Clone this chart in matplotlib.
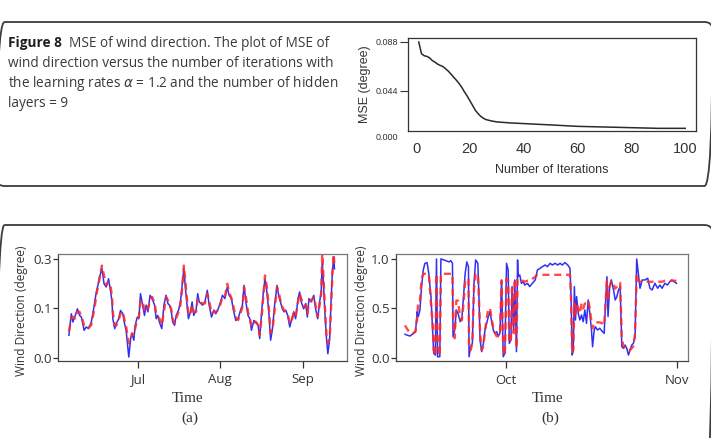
import matplotlib
matplotlib.use("Agg")
import matplotlib.pyplot as plt
from matplotlib.patches import FancyBboxPatch

# ---- data ----
# top right: MSE against training iterations
iterations = [1, 2, 3, 4, 5, 6, 7, 8, 9, 10, 11, 12, 13, 14, 15, 16, 17, 18, 19, 20,
              21, 22, 23, 24, 25, 26, 28, 30, 35, 40, 50, 60, 70, 80, 90, 100]
mse = [0.0880, 0.0774, 0.0756, 0.0750, 0.0737, 0.0713, 0.0698, 0.0680, 0.0668, 0.0658,
       0.0637, 0.0616, 0.0589, 0.0561, 0.0534, 0.0504, 0.0470, 0.0428, 0.0391, 0.0349,
       0.0307, 0.0264, 0.0234, 0.0209, 0.0191, 0.0179, 0.0167, 0.0158, 0.0149, 0.0143,
       0.0131, 0.0118, 0.0112, 0.0106, 0.0100, 0.0100]

# panel (a): days counted from 1 Jun
days_a = [4.1, 5.0, 5.6, 6.5, 7.3, 8.1, 8.8, 9.8, 10.6, 11.5,
          12.5, 13.1, 13.8, 14.4, 15.0, 15.6, 16.5, 17.3, 18.1, 19.0,
          19.8, 20.3, 20.6, 21.3, 21.9, 22.8, 23.5, 24.4, 25.0, 25.6,
          26.3, 26.6, 27.3, 27.8, 28.5, 29.0, 29.8, 30.4, 31.0, 31.9,
          32.5, 33.1, 33.8, 34.6, 35.4, 36.3, 36.9, 37.5, 38.1, 39.0,
          39.8, 40.6, 41.3, 41.9, 42.5, 43.1, 43.8, 44.4, 45.3, 46.0,
          46.5, 47.3, 47.9, 48.5, 49.0, 49.8, 50.4, 51.0, 51.9, 52.5,
          53.1,
          54.3, 55.2, 56.1, 56.8, 57.7, 58.6, 59.3, 60.2, 61.1, 61.8,
          62.7, 63.6, 64.3, 65.2, 65.8, 66.8, 67.7, 68.6, 69.3, 69.9,
          70.6, 71.4, 72.1, 72.7, 73.6, 74.3, 75.2, 75.8, 76.6, 77.3,
          77.8, 78.5, 79.2, 79.9, 80.6, 81.4, 82.3, 82.9, 83.6, 84.3,
          84.9, 85.6, 86.3, 87.1, 87.7, 88.6, 89.3, 90.2, 90.8, 91.4,
          92.3, 93.1, 93.7, 94.3, 95.2, 96.1, 96.8, 97.6, 98.3, 98.9,
          99.3, 99.8, 100.4, 100.9, 101.4, 102.1, 102.6, 103.1, 103.6, 103.9]
actual_a = [0.069, 0.134, 0.109, 0.129, 0.149, 0.129, 0.124, 0.084, 0.094, 0.089,
            0.109, 0.134, 0.170, 0.200, 0.220, 0.245, 0.271, 0.225, 0.215, 0.240,
            0.200, 0.170, 0.119, 0.089, 0.104, 0.119, 0.144, 0.134, 0.104, 0.084,
            0.028, 0.003, 0.059, 0.074, 0.054, 0.099, 0.124, 0.119, 0.195, 0.155,
            0.129, 0.160, 0.140, 0.190, 0.180, 0.160, 0.119, 0.129, 0.109, 0.089,
            0.160, 0.190, 0.165, 0.160, 0.145, 0.109, 0.099, 0.129, 0.145, 0.170,
            0.210, 0.271, 0.210, 0.160, 0.119, 0.140, 0.170, 0.129, 0.145, 0.195,
            0.170,
            0.160, 0.170, 0.205, 0.160, 0.124, 0.145, 0.134, 0.149, 0.170, 0.190,
            0.180, 0.215, 0.190, 0.180, 0.149, 0.114, 0.119, 0.145, 0.160, 0.220,
            0.170, 0.129, 0.119, 0.084, 0.114, 0.109, 0.099, 0.059, 0.149, 0.210,
            0.240, 0.200, 0.140, 0.054, 0.089, 0.160, 0.220, 0.190, 0.170, 0.149,
            0.140, 0.145, 0.129, 0.094, 0.114, 0.140, 0.119, 0.180, 0.200, 0.170,
            0.149, 0.165, 0.124, 0.180, 0.170, 0.190, 0.149, 0.119, 0.170, 0.200,
            0.291, 0.220, 0.119, 0.059, 0.013, 0.059, 0.170, 0.261, 0.306, 0.270]
predicted_a = [0.080, 0.120, 0.125, 0.120, 0.140, 0.140, 0.125, 0.100, 0.090, 0.092,
               0.100, 0.125, 0.155, 0.190, 0.215, 0.240, 0.280, 0.250, 0.220, 0.230,
               0.215, 0.185, 0.140, 0.100, 0.098, 0.115, 0.135, 0.140, 0.115, 0.095,
               0.060, 0.045, 0.050, 0.075, 0.070, 0.090, 0.115, 0.125, 0.175, 0.170,
               0.140, 0.150, 0.150, 0.175, 0.185, 0.165, 0.135, 0.125, 0.120, 0.100,
               0.140, 0.185, 0.175, 0.160, 0.150, 0.120, 0.105, 0.120, 0.140, 0.160,
               0.195, 0.280, 0.230, 0.175, 0.130, 0.135, 0.160, 0.140, 0.140, 0.180,
               0.175,
               0.165, 0.165, 0.195, 0.175, 0.135, 0.140, 0.140, 0.145, 0.165, 0.185,
               0.185, 0.225, 0.200, 0.180, 0.160, 0.125, 0.115, 0.135, 0.155, 0.215,
               0.185, 0.140, 0.120, 0.095, 0.105, 0.110, 0.100, 0.070, 0.130, 0.200,
               0.250, 0.215, 0.155, 0.075, 0.085, 0.145, 0.215, 0.200, 0.175, 0.155,
               0.145, 0.140, 0.135, 0.105, 0.110, 0.135, 0.125, 0.170, 0.195, 0.180,
               0.155, 0.160, 0.135, 0.170, 0.175, 0.185, 0.160, 0.125, 0.160, 0.195,
               0.315, 0.240, 0.140, 0.070, 0.045, 0.060, 0.150, 0.250, 0.315, 0.280]

# panel (b): days counted from 1 Sep
days_b = [11.7, 12.0, 12.6, 13.2, 13.6, 13.9, 14.1, 14.4, 14.7, 15.0,
          15.3, 15.7, 16.0, 16.4, 16.7, 16.9, 17.2, 17.4, 17.6, 18.0,
          18.2, 18.6, 19.2, 19.7, 20.0, 20.3, 20.4, 20.7, 21.0, 21.3,
          21.7, 22.0, 22.3, 22.6, 22.9, 23.2, 23.3, 23.6, 23.9, 24.2,
          24.5, 24.9, 25.1, 25.3, 25.6, 25.9, 26.2, 26.5, 26.8, 27.1,
          27.4, 27.7, 28.0, 28.3, 28.6, 28.9, 29.2, 29.5, 29.8, 30.1,
          30.4, 30.6, 30.9, 31.1, 31.4, 31.6, 31.9, 32.1, 32.2, 32.5,
          32.8, 33.1, 33.4, 33.9, 34.3, 34.8, 35.3, 35.7, 36.2, 36.6,
          37.1, 37.5, 38.0, 38.4, 38.9, 39.4, 39.8, 40.2, 40.7, 41.2,
          41.6, 41.8, 42.0, 42.2, 42.4, 42.6, 42.8, 43.1, 43.4, 43.7,
          44.0, 44.3, 44.6, 44.9, 45.2, 45.5, 45.7, 46.0, 46.2, 46.6,
          47.0, 47.5, 47.8, 48.1, 48.3, 48.5, 48.8, 49.1, 49.5, 49.8,
          50.1, 50.4, 50.7, 51.0, 51.3, 51.6, 51.9, 52.2, 52.5, 52.8,
          53.1, 53.4, 53.7, 54.0, 54.3, 54.7, 55.2, 55.7, 56.1, 56.5,
          57.0, 57.5, 57.9, 58.3, 58.8, 59.3, 59.7, 60.1, 60.5, 60.9]
actual_b = [0.240, 0.232, 0.222, 0.249, 0.266, 0.468, 0.418, 0.485, 0.721, 0.889,
            0.956, 0.963, 0.855, 0.620, 0.283, 0.047, 0.030, 1.000, 0.013, 0.013,
            1.000, 0.993, 0.980, 0.970, 0.983, 0.956, 0.215, 0.283, 0.485, 0.451,
            0.367, 0.400, 0.620, 0.855, 0.970, 0.920, 0.013, 0.114, 0.148, 0.754,
            0.990, 0.956, 0.620, 0.182, 0.064, 0.148, 0.283, 0.350, 0.418, 0.468,
            0.367, 0.283, 0.249, 0.266, 0.222, 0.249, 0.788, 0.013, 0.047, 0.956,
            0.889, 0.148, 0.182, 0.721, 0.283, 0.788, 0.064, 0.990, 0.821, 0.838,
            0.754, 0.771, 0.737, 0.754, 0.721, 0.754, 0.788, 0.889, 0.906, 0.922,
            0.939, 0.922, 0.956, 0.939, 0.956, 0.939, 0.956, 0.939, 0.963, 0.939,
            0.906, 0.620, 0.030, 0.081, 0.721, 0.384, 0.620, 0.451, 0.384, 0.434,
            0.367, 0.485, 0.350, 0.586, 0.451, 0.283, 0.114, 0.283, 0.316, 0.283,
            0.300, 0.266, 0.249, 0.620, 0.821, 0.418, 0.721, 0.788, 0.687, 0.586,
            0.620, 0.687, 0.721, 0.114, 0.098, 0.131, 0.098, 0.030, 0.081, 0.131,
            0.148, 0.215, 1.000, 0.855, 0.704, 0.788, 0.788, 0.805, 0.704, 0.687,
            0.754, 0.704, 0.737, 0.704, 0.754, 0.737, 0.771, 0.788, 0.771, 0.754]
predicted_b = [0.330, 0.300, 0.250, 0.250, 0.270, 0.400, 0.580, 0.580, 0.800, 0.850,
               0.850, 0.850, 0.850, 0.550, 0.350, 0.080, 0.020, 0.850, 0.150, 0.020,
               0.850, 0.850, 0.850, 0.850, 0.850, 0.850, 0.400, 0.200, 0.580, 0.580,
               0.400, 0.380, 0.550, 0.780, 0.800, 0.800, 0.100, 0.080, 0.150, 0.700,
               0.850, 0.850, 0.600, 0.250, 0.080, 0.120, 0.280, 0.400, 0.500, 0.500,
               0.400, 0.300, 0.250, 0.220, 0.220, 0.220, 0.780, 0.100, 0.020, 0.800,
               0.780, 0.150, 0.200, 0.700, 0.250, 0.800, 0.100, 0.800, 0.800, 0.800,
               0.780, 0.780, 0.770, 0.780, 0.780, 0.800, 0.820, 0.840, 0.840, 0.840,
               0.840, 0.840, 0.840, 0.840, 0.840, 0.840, 0.840, 0.840, 0.840, 0.840,
               0.840, 0.600, 0.050, 0.080, 0.550, 0.450, 0.550, 0.500, 0.450, 0.550,
               0.500, 0.550, 0.550, 0.580, 0.500, 0.360, 0.300, 0.360, 0.360, 0.360,
               0.360, 0.350, 0.330, 0.600, 0.780, 0.600, 0.720, 0.780, 0.750, 0.700,
               0.720, 0.740, 0.760, 0.200, 0.120, 0.100, 0.100, 0.080, 0.080, 0.100,
               0.120, 0.250, 0.850, 0.780, 0.770, 0.770, 0.770, 0.770, 0.770, 0.770,
               0.770, 0.770, 0.770, 0.770, 0.780, 0.780, 0.780, 0.780, 0.780, 0.780]

a_ticks, a_labels = [30, 61, 92], ['Jul', 'Aug', 'Sep']
b_ticks, b_labels = [30, 61], ['Oct', 'Nov']

W, H = 711, 438
plt.rcParams['font.family'] = ['Liberation Sans', 'DejaVu Sans']
fig = plt.figure(figsize=(W / 100, H / 100), dpi=100)


def px_box(x0, y0, x1, y1):
    # axes rectangle from pixel corners (origin top-left)
    return [x0 / W, 1 - y1 / H, (x1 - x0) / W, (y1 - y0) / H]


# background layer in pixel units: frames and caption
bg = fig.add_axes([0, 0, 1, 1])
bg.set_xlim(0, W)
bg.set_ylim(H, 0)
bg.axis('off')
frame = dict(boxstyle='round,pad=0,rounding_size=8', fill=False, ec='#3c3c3c', lw=1.3)
bg.add_patch(FancyBboxPatch((-3.5, 22), 716, 164, **frame))
bg.add_patch(FancyBboxPatch((-3.5, 225), 716, 260, **frame))

cap = dict(fontfamily=['Open Sans', 'DejaVu Sans'], fontsize=9.8, va='baseline', color='#3a3a3a')
renderer = fig.canvas.get_renderer()
t = bg.text(8, 47, 'Figure 8', fontweight='bold', **dict(cap, color='#1e1e1e'))
w = t.get_window_extent(renderer).width
bg.text(8 + w + 7, 47, 'MSE of wind direction. The plot of MSE of', **cap)
bg.text(8, 67, 'wind direction versus the number of iterations with', **cap)
bg.text(8, 87, r'the learning rates $\alpha$ = 1.2 and the number of hidden', **cap)
bg.text(8, 107, 'layers = 9', **cap)

# ---- MSE panel ----
ax1 = fig.add_axes(px_box(408, 38, 696, 131))
ax1.plot(iterations, mse, color='#2a2a2a', lw=1.1)
ax1.set_xlim(-3, 104)
ax1.set_ylim(0.0076, 0.0916)
ax1.set_xticks([0, 20, 40, 60, 80, 100])
ax1.set_yticks([0.044, 0.088])
ax1.set_yticklabels(['0.044', '0.088'])
ax1.tick_params(axis='x', length=0, pad=8, labelsize=10.5, colors='#333333')
ax1.tick_params(axis='y', length=6, width=0.8, pad=1, labelsize=6.5, colors='#333333')
ax1.text(-0.035, 0.0015, '0.000', transform=ax1.get_yaxis_transform(), ha='right',
         va='center', fontsize=6.5, color='#333333', clip_on=False)
for s in ax1.spines.values():
    s.set_color('#333333')
    s.set_linewidth(0.9)
ax1.set_xlabel('Number of Iterations', fontsize=9, va='center', color='#333333')
ax1.xaxis.set_label_coords(0.5, (131 - 170) / 93)
ax1.set_ylabel('MSE (degree)', fontsize=9, va='center', color='#333333')
ax1.yaxis.set_label_coords((365 - 408) / 288, 0.5)

# ---- panels (a) and (b) ----
sans = ['Open Sans', 'DejaVu Sans']
serif = ['Liberation Serif', 'DejaVu Serif']


def wind_panel(rect, days, actual, predicted, xlim, ylim, ticks, labels, yticks, ylabels,
               tag, label_x, ylabel_x):
    ax = fig.add_axes(px_box(*rect))
    ax.plot(days, actual, color='#3030f5', lw=1.1)
    ax.plot(days, predicted, color='#ff2a2a', lw=1.7, ls=(0, (3, 2)), alpha=0.85)
    ax.set_xlim(*xlim)
    ax.set_ylim(*ylim)
    ax.set_xticks(ticks)
    ax.set_xticklabels(labels, fontfamily=sans)
    ax.set_yticks(yticks)
    ax.set_yticklabels(ylabels, fontfamily=sans)
    ax.tick_params(axis='x', length=5, width=0.9, pad=4, labelsize=9.5, colors='#333333')
    ax.tick_params(axis='y', length=3.5, width=0.9, pad=1, labelsize=9.5, colors='#333333')
    for name, s in ax.spines.items():
        s.set_linewidth(0.9)
        s.set_color('#777777' if name in ('top', 'right') else '#444444')
    x0, y0, x1, y1 = rect
    bg.text(label_x, 398, 'Time', fontfamily=serif, fontsize=11, ha='center', va='center',
            color='#333333')
    bg.text(label_x + 2, 418, tag, fontfamily=serif, fontsize=11, ha='center', va='center',
            color='#333333')
    ax.set_ylabel('Wind Direction (degree)', fontfamily=sans, fontsize=8.6, va='center',
                  color='#333333')
    ax.yaxis.set_label_coords((ylabel_x - x0) / (x1 - x0), 0.47)
    return ax


wind_panel((58, 254, 347, 361), days_a, actual_a, predicted_a, (0, 108.6), (-0.009, 0.315),
           a_ticks, a_labels, [0.0, 0.15, 0.3], ['0.0', '0.1', '0.3'], '(a)', 188, 22)
wind_panel((396, 254, 688, 361), days_b, actual_b, predicted_b, (10.06, 63.0), (-0.03, 1.05),
           b_ticks, b_labels, [0.0, 0.5, 1.0], ['0.0', '0.5', '1.0'], '(b)', 548, 361)

fig.savefig('out.png', dpi=100)
